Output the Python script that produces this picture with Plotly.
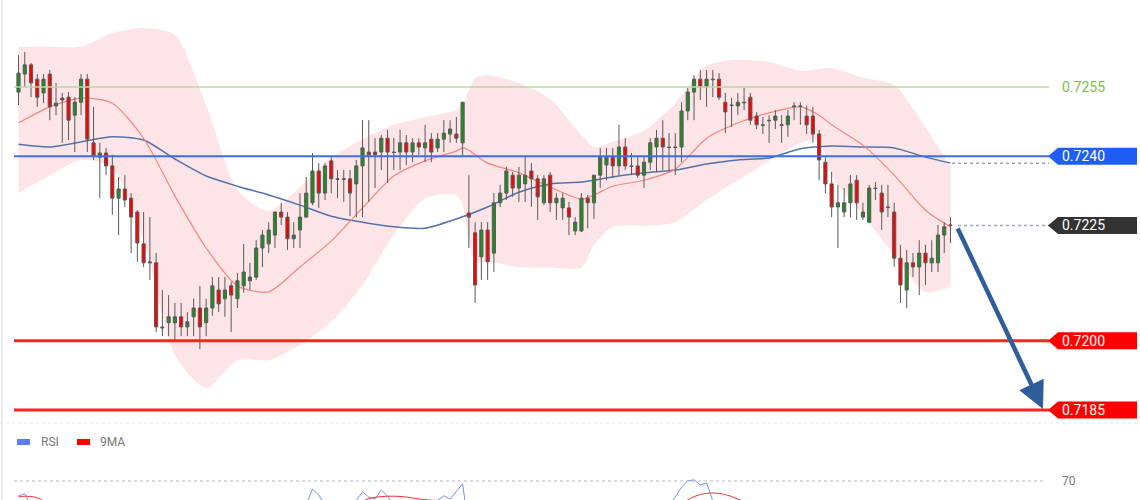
import plotly.graph_objects as go

# ---------------- data ----------------
candle_idx = list(range(150))
open_ = [
0.72539, 0.72578, 0.72598, 0.72567, 0.72537, 0.72578, 0.72509, 0.72526, 0.72528, 0.72489,
0.72517, 0.72567, 0.72429, 0.72398, 0.72407, 0.72379, 0.72309, 0.72329, 0.72309, 0.72279,
0.72210, 0.72171, 0.72169, 0.72030, 0.72039, 0.72039, 0.72052, 0.72030, 0.72052, 0.72071,
0.72039, 0.72071, 0.72110, 0.72091, 0.72119, 0.72091, 0.72119, 0.72130, 0.72138, 0.72201,
0.72210, 0.72229, 0.72279, 0.72268, 0.72221, 0.72240, 0.72268, 0.72299, 0.72368, 0.72320,
0.72390, 0.72351, 0.72351, 0.72351, 0.72340, 0.72379, 0.72409, 0.72409, 0.72409, 0.72439,
0.72409, 0.72409, 0.72429, 0.72409, 0.72429, 0.72418, 0.72437, 0.72418, 0.72437, 0.72448,
0.72448, 0.72429, 0.72277, 0.72234, 0.72182, 0.72240, 0.72190, 0.72299, 0.72320, 0.72359,
0.72331, 0.72340, 0.72368, 0.72351, 0.72299, 0.72359, 0.72299, 0.72288, 0.72288, 0.72238,
0.72238, 0.72309, 0.72299, 0.72359, 0.72381, 0.72398, 0.72379, 0.72420, 0.72379, 0.72379,
0.72359, 0.72387, 0.72420, 0.72439, 0.72420, 0.72420, 0.72420, 0.72498, 0.72539, 0.72567,
0.72550, 0.72567, 0.72567, 0.72517, 0.72511, 0.72509, 0.72517, 0.72528, 0.72487, 0.72468,
0.72478, 0.72478, 0.72468, 0.72468, 0.72509, 0.72509, 0.72487, 0.72487, 0.72448, 0.72387,
0.72340, 0.72290, 0.72279, 0.72299, 0.72348, 0.72268, 0.72257, 0.72331, 0.72320, 0.72290,
0.72279, 0.72179, 0.72110, 0.72169, 0.72160, 0.72190, 0.72169, 0.72169, 0.72229, 0.72251]
high = [
0.72619, 0.72626, 0.72602, 0.72578, 0.72578, 0.72587, 0.72559, 0.72537, 0.72539, 0.72528,
0.72578, 0.72578, 0.72507, 0.72429, 0.72418, 0.72403, 0.72355, 0.72359, 0.72320, 0.72283,
0.72279, 0.72268, 0.72190, 0.72110, 0.72099, 0.72082, 0.72082, 0.72062, 0.72091, 0.72119,
0.72091, 0.72138, 0.72138, 0.72138, 0.72127, 0.72147, 0.72210, 0.72169, 0.72218, 0.72240,
0.72257, 0.72279, 0.72299, 0.72279, 0.72257, 0.72320, 0.72355, 0.72407, 0.72385, 0.72385,
0.72398, 0.72370, 0.72370, 0.72370, 0.72392, 0.72478, 0.72478, 0.72439, 0.72446, 0.72457,
0.72439, 0.72457, 0.72446, 0.72439, 0.72439, 0.72468, 0.72450, 0.72450, 0.72478, 0.72478,
0.72485, 0.72517, 0.72359, 0.72257, 0.72257, 0.72257, 0.72320, 0.72338, 0.72377, 0.72366,
0.72377, 0.72398, 0.72385, 0.72359, 0.72359, 0.72366, 0.72320, 0.72320, 0.72301, 0.72268,
0.72320, 0.72316, 0.72359, 0.72418, 0.72418, 0.72418, 0.72468, 0.72439, 0.72407, 0.72398,
0.72398, 0.72439, 0.72457, 0.72478, 0.72450, 0.72450, 0.72517, 0.72548, 0.72576, 0.72587,
0.72587, 0.72587, 0.72580, 0.72537, 0.72526, 0.72537, 0.72548, 0.72537, 0.72496, 0.72485,
0.72489, 0.72500, 0.72489, 0.72500, 0.72517, 0.72517, 0.72509, 0.72507, 0.72457, 0.72398,
0.72366, 0.72338, 0.72331, 0.72359, 0.72359, 0.72299, 0.72338, 0.72344, 0.72338, 0.72338,
0.72299, 0.72208, 0.72197, 0.72190, 0.72218, 0.72208, 0.72218, 0.72251, 0.72257, 0.72268]
low = [
0.72511, 0.72550, 0.72528, 0.72507, 0.72515, 0.72478, 0.72489, 0.72429, 0.72435, 0.72409,
0.72489, 0.72409, 0.72392, 0.72309, 0.72359, 0.72273, 0.72229, 0.72290, 0.72190, 0.72171,
0.72160, 0.72132, 0.72019, 0.72010, 0.72010, 0.72002, 0.72010, 0.72010, 0.72010, 0.71982,
0.72010, 0.72054, 0.72062, 0.72052, 0.72019, 0.72071, 0.72104, 0.72110, 0.72132, 0.72160,
0.72190, 0.72201, 0.72251, 0.72197, 0.72201, 0.72201, 0.72268, 0.72294, 0.72288, 0.72305,
0.72320, 0.72309, 0.72301, 0.72270, 0.72268, 0.72268, 0.72301, 0.72331, 0.72370, 0.72342,
0.72370, 0.72370, 0.72381, 0.72387, 0.72403, 0.72387, 0.72387, 0.72409, 0.72409, 0.72429,
0.72429, 0.72401, 0.72201, 0.72082, 0.72132, 0.72132, 0.72149, 0.72290, 0.72305, 0.72312,
0.72301, 0.72301, 0.72290, 0.72262, 0.72294, 0.72279, 0.72262, 0.72262, 0.72229, 0.72229,
0.72236, 0.72244, 0.72264, 0.72331, 0.72348, 0.72353, 0.72359, 0.72370, 0.72359, 0.72353,
0.72331, 0.72370, 0.72366, 0.72370, 0.72366, 0.72359, 0.72387, 0.72478, 0.72478, 0.72522,
0.72507, 0.72528, 0.72522, 0.72450, 0.72463, 0.72489, 0.72500, 0.72468, 0.72459, 0.72448,
0.72429, 0.72459, 0.72429, 0.72442, 0.72478, 0.72468, 0.72448, 0.72429, 0.72348, 0.72320,
0.72268, 0.72201, 0.72268, 0.72268, 0.72262, 0.72262, 0.72255, 0.72305, 0.72240, 0.72268,
0.72160, 0.72082, 0.72071, 0.72138, 0.72099, 0.72121, 0.72149, 0.72149, 0.72190, 0.72212]
close = [
0.72580, 0.72598, 0.72559, 0.72528, 0.72567, 0.72507, 0.72515, 0.72522, 0.72478, 0.72517,
0.72567, 0.72437, 0.72401, 0.72407, 0.72379, 0.72309, 0.72329, 0.72305, 0.72268, 0.72212,
0.72169, 0.72169, 0.72030, 0.72028, 0.72052, 0.72052, 0.72030, 0.72041, 0.72071, 0.72030,
0.72071, 0.72119, 0.72080, 0.72110, 0.72099, 0.72130, 0.72149, 0.72138, 0.72201, 0.72229,
0.72240, 0.72279, 0.72268, 0.72221, 0.72229, 0.72268, 0.72320, 0.72368, 0.72320, 0.72379,
0.72351, 0.72350, 0.72350, 0.72320, 0.72379, 0.72418, 0.72403, 0.72403, 0.72439, 0.72409,
0.72408, 0.72429, 0.72409, 0.72429, 0.72420, 0.72429, 0.72409, 0.72437, 0.72450, 0.72459,
0.72439, 0.72517, 0.72268, 0.72121, 0.72240, 0.72171, 0.72299, 0.72320, 0.72368, 0.72331,
0.72359, 0.72359, 0.72351, 0.72312, 0.72351, 0.72299, 0.72309, 0.72309, 0.72268, 0.72257,
0.72309, 0.72299, 0.72359, 0.72398, 0.72398, 0.72379, 0.72420, 0.72379, 0.72378, 0.72359,
0.72387, 0.72429, 0.72439, 0.72420, 0.72419, 0.72419, 0.72498, 0.72539, 0.72567, 0.72550,
0.72567, 0.72566, 0.72528, 0.72496, 0.72510, 0.72517, 0.72516, 0.72478, 0.72468, 0.72467,
0.72477, 0.72487, 0.72467, 0.72487, 0.72508, 0.72508, 0.72468, 0.72448, 0.72392, 0.72340,
0.72290, 0.72299, 0.72299, 0.72340, 0.72299, 0.72279, 0.72331, 0.72330, 0.72279, 0.72289,
0.72179, 0.72121, 0.72169, 0.72160, 0.72190, 0.72169, 0.72179, 0.72229, 0.72247, 0.72250]

# Bollinger band / moving averages, read at sampled candle positions
band_idx = [0, 5, 10, 15, 20, 25, 30, 35, 40, 45, 50, 55, 60, 65, 70, 71, 72, 73, 75, 80,
            85, 90, 92, 95, 100, 105, 110, 115, 120, 125, 128, 130, 135, 140, 145, 149]
bb_upper = [0.72637, 0.72637, 0.72637, 0.72667, 0.72678, 0.72663, 0.72511, 0.72327, 0.72281, 0.72333,
            0.72396, 0.72437, 0.72468, 0.72485, 0.72500, 0.72513, 0.72543, 0.72570, 0.72576, 0.72559,
            0.72524, 0.72446, 0.72420, 0.72431, 0.72455, 0.72515, 0.72596, 0.72609, 0.72604, 0.72585,
            0.72589, 0.72591, 0.72570, 0.72554, 0.72463, 0.72377]
bb_mid = [0.72472, 0.72507, 0.72526, 0.72515, 0.72439, 0.72314, 0.72201, 0.72119, 0.72106, 0.72160,
          0.72216, 0.72288, 0.72357, 0.72390, 0.72411, 0.72418, 0.72413, 0.72403, 0.72385, 0.72364,
          0.72333, 0.72307, 0.72316, 0.72335, 0.72348, 0.72372, 0.72439, 0.72472, 0.72494, 0.72507,
          0.72489, 0.72468, 0.72424, 0.72359, 0.72283, 0.72247]
bb_lower = [0.72320, 0.72359, 0.72392, 0.72374, 0.72218, 0.71969, 0.71898, 0.71958, 0.71958, 0.71991,
            0.72041, 0.72121, 0.72229, 0.72309, 0.72316, 0.72294, 0.72218, 0.72171, 0.72171, 0.72160,
            0.72158, 0.72158, 0.72208, 0.72247, 0.72249, 0.72257, 0.72305, 0.72348, 0.72390, 0.72429,
            0.72435, 0.72359, 0.72273, 0.72186, 0.72106, 0.72117]
ma_idx = [0, 5, 10, 15, 20, 25, 30, 35, 40, 45, 50, 55, 60, 65, 70, 75, 80, 85, 90, 95,
          100, 105, 110, 115, 120, 125, 130, 135, 140, 145, 149]
ma_long = [0.72426, 0.72420, 0.72431, 0.72442, 0.72435, 0.72394, 0.72357, 0.72335, 0.72316, 0.72294,
           0.72270, 0.72257, 0.72247, 0.72244, 0.72264, 0.72290, 0.72322, 0.72340, 0.72344, 0.72355,
           0.72364, 0.72370, 0.72383, 0.72392, 0.72396, 0.72416, 0.72422, 0.72420, 0.72418, 0.72398,
           0.72385]

# RSI panel (mostly below the visible window)
rsi_idx = [0, 1, 2, 4, 10, 15, 20, 25, 30, 35, 40, 44, 46, 47, 48, 49, 51, 53, 55, 56, 57, 58, 59,
           60, 63, 66, 68, 69, 71, 72, 73, 76, 80, 85, 90, 95, 100, 103, 105, 106, 107, 108, 109,
           110, 111, 113, 118, 125, 130, 135, 140, 145, 149]
rsi_val = [66.3, 66.8, 64, 60, 55, 40, 35, 30, 38, 45, 55, 60, 64, 68.0, 66.5, 64, 62, 63, 67.3, 66.0,
           65.5, 67.8, 66.2, 64, 62, 64, 66.3, 65.5, 69.3, 58, 45, 50, 55, 52, 50, 57, 60, 62, 66,
           68.5, 70.0, 70.3, 69.0, 69.5, 65, 60, 50, 55, 40, 38, 35, 40, 47]
rsi_ma_idx = [0, 1, 3, 5, 10, 20, 30, 40, 50, 54, 56, 58, 60, 62, 64, 66, 70, 75, 85, 95, 100, 105,
              107, 109, 111, 113, 115, 117, 125, 135, 149]
rsi_ma_val = [66.0, 66.2, 65.8, 64, 60, 45, 36, 45, 60, 64, 65.6, 66.1, 66.2, 66.0, 65.5, 65.2, 64.5,
              58, 53, 55, 58, 63, 65.3, 66.6, 67.0, 66.6, 65.5, 64, 57, 45, 42]

levels = [0.7255, 0.7240, 0.7225, 0.7200, 0.7185]
level_labels = ["0.7255", "0.7240", "0.7225", "0.7200", "0.7185"]
rsi_level = 70

# ---------------- figure ----------------
W, H = 1140, 500
FONT = "Roboto, Arial, sans-serif"

def px(x):
    return x / W

def py(y):
    return 1 - y / H

fig = go.Figure()

# Bollinger band fill (base subplot, drawn underneath)
fig.add_trace(go.Scatter(x=band_idx, y=bb_upper, mode="lines",
                         line=dict(width=0, shape="spline", smoothing=0.7),
                         hoverinfo="skip", showlegend=False))
fig.add_trace(go.Scatter(x=band_idx, y=bb_lower, mode="lines",
                         line=dict(width=0, shape="spline", smoothing=0.7),
                         fill="tonexty", fillcolor="rgba(252,212,217,0.62)",
                         hoverinfo="skip", showlegend=False))
fig.add_trace(go.Scatter(x=ma_idx, y=ma_long, mode="lines",
                         line=dict(color="#5273aa", width=1.5, shape="spline", smoothing=0.7),
                         hoverinfo="skip", showlegend=False))
fig.add_trace(go.Scatter(x=band_idx, y=bb_mid, mode="lines",
                         line=dict(color="#f3867f", width=1.2, shape="spline", smoothing=0.7),
                         hoverinfo="skip", showlegend=False))

# candles on an overlaying axis so they sit above the band
fig.add_trace(go.Candlestick(
    x=candle_idx, open=open_, high=high, low=low, close=close, yaxis="y3",
    increasing=dict(fillcolor="#228b22", line=dict(color="#595959", width=1)),
    decreasing=dict(fillcolor="#ff0000", line=dict(color="#595959", width=1)),
    whiskerwidth=0, showlegend=False, hoverinfo="skip"))

# RSI panel
fig.add_trace(go.Scatter(x=rsi_idx, y=rsi_val, yaxis="y2", mode="lines",
                         line=dict(color="#7593ea", width=1),
                         hoverinfo="skip", showlegend=False))
fig.add_trace(go.Scatter(x=rsi_ma_idx, y=rsi_ma_val, yaxis="y2", mode="lines",
                         line=dict(color="#ff3030", width=1, shape="spline"),
                         hoverinfo="skip", showlegend=False))

shapes = []
annotations = []

line_styles = {
    0: dict(color="#b6dca0", width=1.5),
    1: dict(color="#3b6cf2", width=2),
    3: dict(color="#ff2222", width=3),
    4: dict(color="#ff2222", width=3),
}
for k, st in line_styles.items():
    shapes.append(dict(type="line", xref="paper", yref="y", x0=px(14), x1=px(1049),
                       y0=levels[k], y1=levels[k], line=st, layer="above"))

# dotted connectors to the labels
shapes.append(dict(type="line", xref="paper", yref="y", x0=px(952), x1=px(1049),
                   y0=ma_long[-1], y1=ma_long[-1],
                   line=dict(color="#9ea7ba", width=1.5, dash="dot")))
shapes.append(dict(type="line", xref="paper", yref="y", x0=px(958), x1=px(1049),
                   y0=close[-1], y1=close[-1],
                   line=dict(color="#9ea7ba", width=1.5, dash="dot")))

# label boxes with pointed left edge
half = 8.5 / 4.614 * 0.0001
box_colors = {1: "#1f5ef5", 2: "#333333", 3: "#ff0000", 4: "#ff0000"}
for k, col in box_colors.items():
    p = levels[k]
    path = (f"M {px(1048)},{p} L {px(1058)},{p + half} L {px(1137)},{p + half} "
            f"L {px(1137)},{p - half} L {px(1058)},{p - half} Z")
    shapes.append(dict(type="path", xref="paper", yref="y", path=path,
                       fillcolor=col, line=dict(width=0)))
    annotations.append(dict(xref="paper", yref="y", x=px(1060), y=p, text=level_labels[k],
                            xanchor="left", yanchor="middle", showarrow=False,
                            font=dict(family=FONT, size=14, color="#ffffff")))
annotations.append(dict(xref="paper", yref="y", x=px(1060), y=levels[0], text=level_labels[0],
                        xanchor="left", yanchor="middle", showarrow=False,
                        font=dict(family=FONT, size=14, color="#7cbf45")))

# arrow
annotations.append(dict(xref="paper", yref="paper", x=px(1043), y=py(409), text="",
                        showarrow=True, ax=-86, ay=-182, arrowhead=2, arrowsize=1.2,
                        arrowwidth=4.5, arrowcolor="#2f5d9b", standoff=0))

# panel separator, left border
shapes.append(dict(type="line", xref="paper", yref="paper", x0=0, x1=1, y0=py(423), y1=py(423),
                   line=dict(color="#e3e6ec", width=1, dash="dot")))
shapes.append(dict(type="line", xref="paper", yref="paper", x0=px(2), x1=px(2), y0=0, y1=1,
                   line=dict(color="#e2e6ee", width=1.5)))

# RSI 70 level
shapes.append(dict(type="line", xref="paper", yref="y2", x0=px(14), x1=px(1045),
                   y0=rsi_level, y1=rsi_level, line=dict(color="#b5b8c0", width=1, dash="dot")))
annotations.append(dict(xref="paper", yref="y2", x=px(1060), y=rsi_level, text=str(rsi_level),
                        xanchor="left", yanchor="middle", showarrow=False,
                        font=dict(family=FONT, size=12, color="#777777")))

# RSI legend
shapes.append(dict(type="rect", xref="paper", yref="paper", x0=px(17), x1=px(30),
                   y0=py(445), y1=py(439), fillcolor="#5b7fe6", line=dict(width=0)))
shapes.append(dict(type="rect", xref="paper", yref="paper", x0=px(77), x1=px(90),
                   y0=py(445), y1=py(439), fillcolor="#ff0000", line=dict(width=0)))
annotations.append(dict(xref="paper", yref="paper", x=px(39), y=py(442), text="RSI",
                        xanchor="left", yanchor="middle", showarrow=False,
                        font=dict(family=FONT, size=12, color="#777777")))
annotations.append(dict(xref="paper", yref="paper", x=px(98), y=py(442), text="9MA",
                        xanchor="left", yanchor="middle", showarrow=False,
                        font=dict(family=FONT, size=12, color="#777777")))

step = 6.255
x0 = -18.5 / step
price_range = [0.718174, 0.727386]
fig.update_layout(
    width=W, height=H,
    margin=dict(l=0, r=0, t=0, b=0),
    paper_bgcolor="#ffffff", plot_bgcolor="#ffffff",
    showlegend=False,
    boxgap=0.28,
    xaxis=dict(range=[x0, x0 + W / step], visible=False, rangeslider=dict(visible=False),
               fixedrange=True),
    yaxis=dict(domain=[0.15, 1], range=price_range, visible=False),
    yaxis3=dict(overlaying="y", range=price_range, visible=False),
    yaxis2=dict(domain=[0, 0.09], range=[65.25, 76.5], visible=False),
    shapes=shapes,
    annotations=annotations,
    font=dict(family=FONT),
)

fig.write_html("out.html", config={"displayModeBar": False},
               post_script="document.body.style.margin='0';document.body.style.overflow='hidden';")
